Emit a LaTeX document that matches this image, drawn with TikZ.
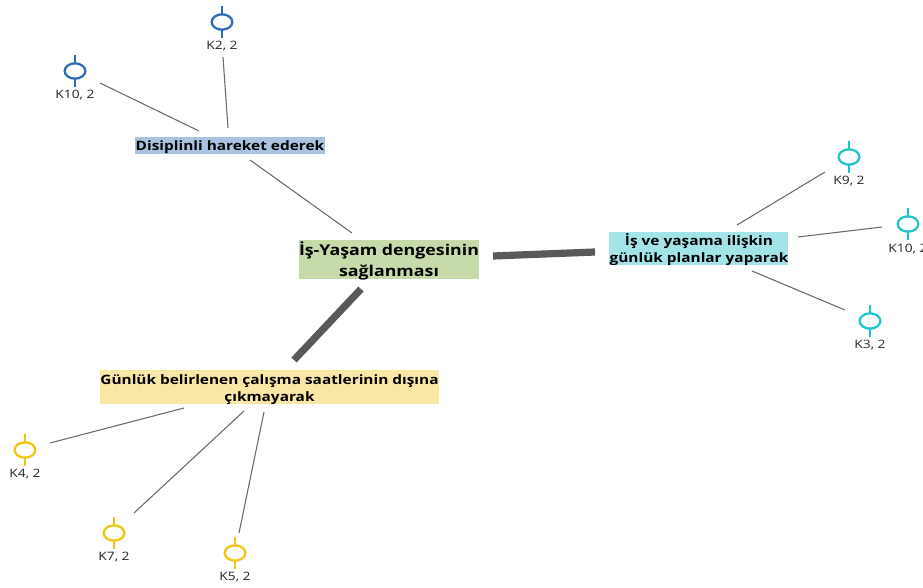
\documentclass[tikz,border=0pt]{standalone}
\usepackage{fontspec}
\setmainfont{Open Sans}
\usetikzlibrary{shapes.geometric}
\definecolor{cblue}{HTML}{2E6DB4}
\definecolor{ccyan}{HTML}{1CC4CF}
\definecolor{cyel}{HTML}{F2C511}
\definecolor{fblue}{HTML}{A9C3E0}
\definecolor{fgreen}{HTML}{C6DBA9}
\definecolor{fcyan}{HTML}{A3E4E8}
\definecolor{fyel}{HTML}{F9E7A6}
\newcommand{\widetxt}[1]{\scalebox{1.19}[1]{#1}}
\tikzset{
  x=0.75pt,y=-0.75pt,
  box/.style={inner sep=0pt,outer sep=0pt,align=center,text=black,font=\bfseries\fontsize{9.7pt}{12.6pt}\selectfont},
  thinlink/.style={draw=black!58,line width=0.8pt},
  thicklink/.style={draw=black!65,line width=5.4pt},
  code/.style={ellipse,draw=#1,line width=1.7pt,fill=white,minimum width=15.5pt,minimum height=11.5pt,inner sep=0pt,outer sep=0pt},
  codetick/.style={draw=#1,line width=1.7pt},
  codelabel/.style={inner sep=0pt,text=black!85,font=\fontsize{8.7pt}{10pt}\selectfont},
}
\newcommand{\codemark}[6]{% name, colour, x, yc, label, labely
  \node[code=#2] (#1) at (#3,#4) {};
  \draw[codetick=#2] (#1.north) -- ++(0,-8);
  \draw[codetick=#2] (#1.south) -- ++(0,8);
  \node[codelabel] (#1l) at (#3,#6) {\widetxt{#5}};
}
\newcommand{\lnk}[5]{% connector end points as named coordinates
  \coordinate (a#1) at (#2,#3);
  \coordinate (b#1) at (#4,#5);
}
\begin{document}
\begin{tikzpicture}
\useasboundingbox (0,0) rectangle (923,588);
\clip (0,0) rectangle (923,588);
\fill[white] (0,0) rectangle (923,588);
% boxes
\fill[fblue] (135,137) rectangle (325,154);
\node[box] (dis) at (230,147.5) {\widetxt{Disiplinli hareket ederek}};
\fill[fgreen] (299,240) rectangle (479,279);
\node[box,font=\bfseries\fontsize{11.2pt}{15.6pt}\selectfont] (main) at (389,261) {\widetxt{İş-Yaşam dengesinin}\\\widetxt{sağlanması}};
\fill[fcyan] (609,232) rectangle (788,265);
\node[box] (plan) at (699,249.5) {\widetxt{İş ve yaşama ilişkin}\\\widetxt{günlük planlar yaparak}};
\fill[fyel] (100,370) rectangle (439,404);
\node[box] (gun) at (269.5,389.5) {\widetxt{Günlük belirlenen çalışma saatlerinin dışına}\\\widetxt{çıkmayarak}};
% code marks
\codemark{kb}{cblue}{222}{22}{K2, 2}{46.5}
\codemark{ka}{cblue}{75}{71}{K10, 2}{95.5}
\codemark{kc}{ccyan}{849}{157}{K9, 2}{181.5}
\codemark{kd}{ccyan}{908}{224}{K10, 2}{249.5}
\codemark{ke}{ccyan}{870}{321}{K3, 2}{345.5}
\codemark{kf}{cyel}{25}{450}{K4, 2}{474.5}
\codemark{kg}{cyel}{114}{533}{K7, 2}{557.5}
\codemark{kh}{cyel}{235}{553}{K5, 2}{577.5}
% connector ends
\lnk{1}{100}{83}{199}{131}
\lnk{2}{223}{57}{228}{128}
\lnk{3}{250}{160}{352}{233}
\lnk{4}{493}{256}{595}{252}
\lnk{5}{361}{289}{294}{360}
\lnk{6}{737}{225}{825}{172}
\lnk{7}{798}{237}{882}{227}
\lnk{8}{752}{271}{845}{310}
\lnk{9}{50}{443}{184}{408}
\lnk{10}{134}{513}{244}{411}
\lnk{11}{239}{533}{264}{412}
\foreach \i in {1,2,3,6,7,8,9,10,11} \draw[thinlink] (a\i) -- (b\i);
\foreach \i in {4,5} \draw[thicklink] (a\i) -- (b\i);
\end{tikzpicture}
\end{document}
